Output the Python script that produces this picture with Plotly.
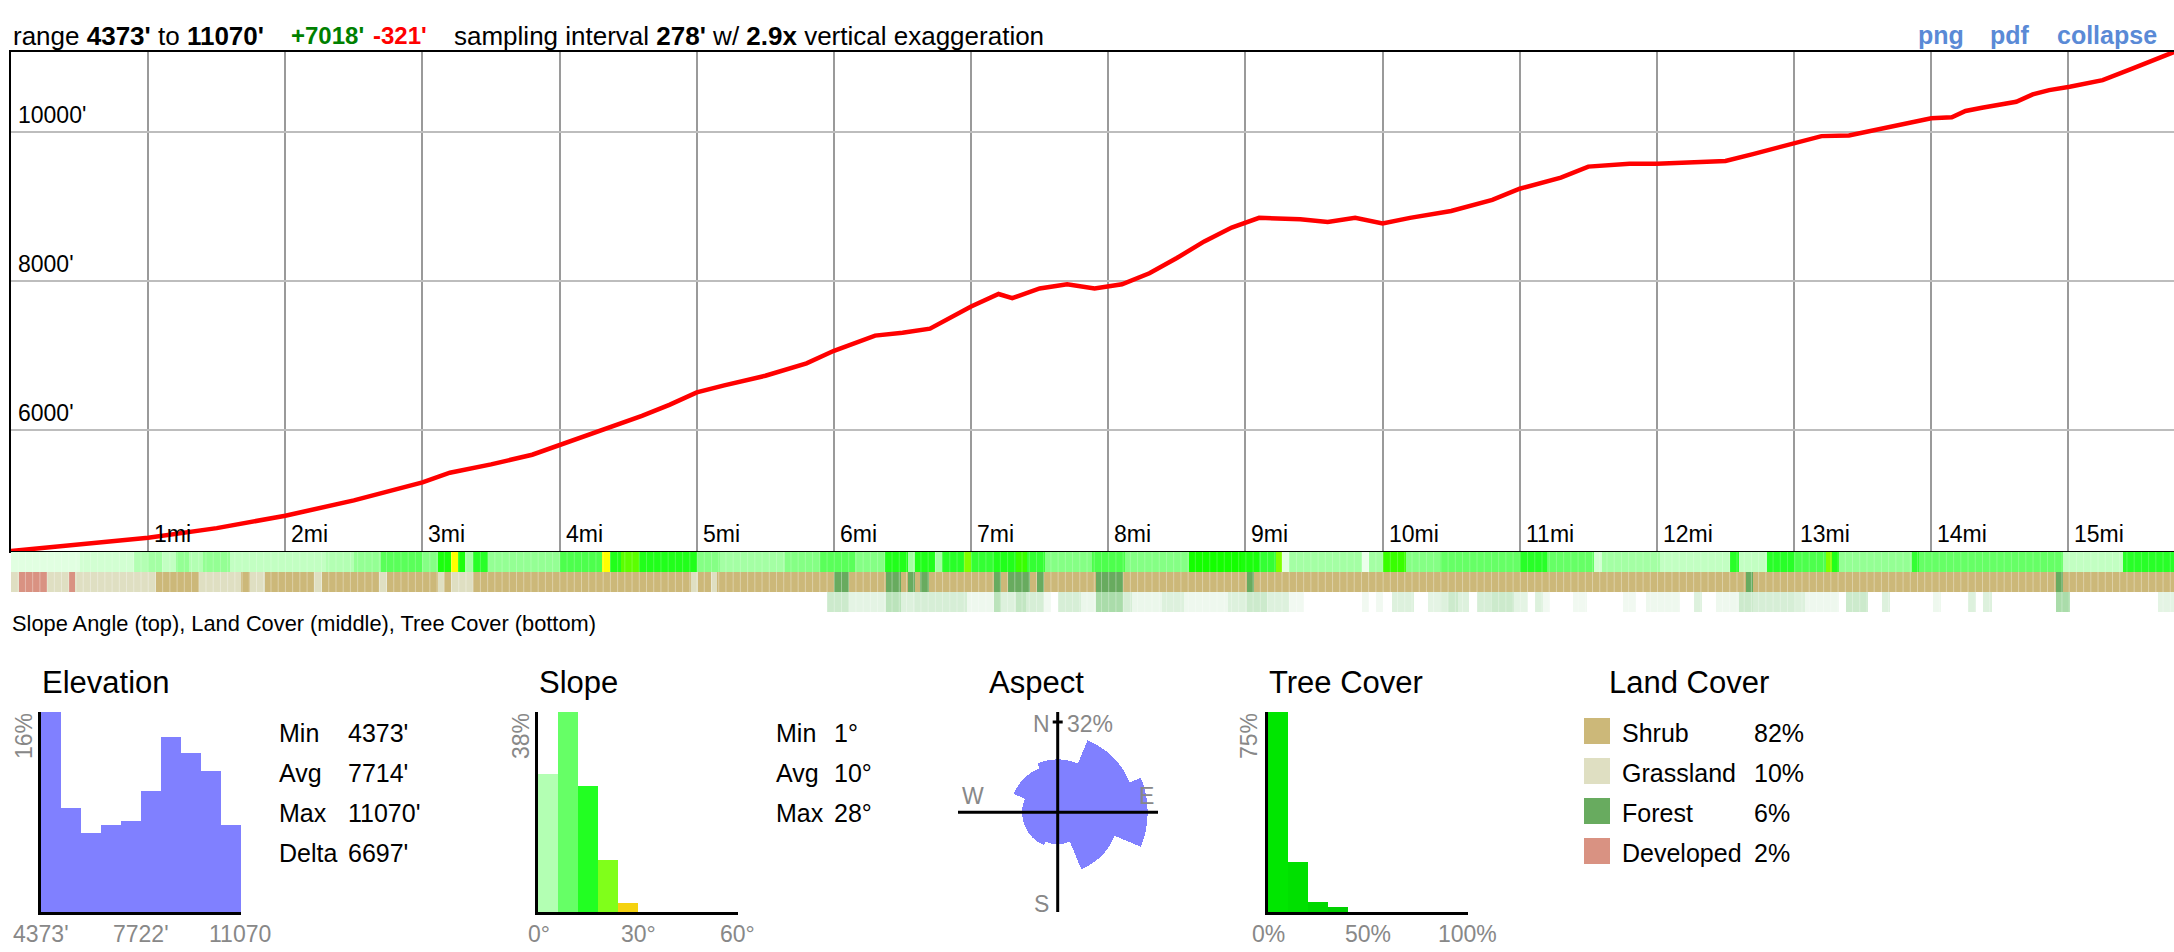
import math
import plotly.graph_objects as go

W, H = 2174, 952
FONT = "Arial, Liberation Sans, sans-serif"
GRAY = "#888888"


def px(x):
    return x / W


def py(y):
    return 1 - y / H


# ---------------- data ----------------
elev_min, elev_max = 4373, 11070
total_mi = 15.77
sampling_ft = 278

profile_mi = [0.0, 0.5, 1.0, 1.5, 2.0, 2.5, 3.0, 3.2, 3.5, 3.8, 4.0, 4.2, 4.4, 4.6, 4.8,
              5.0, 5.2, 5.5, 5.8, 6.0, 6.3, 6.5, 6.7, 7.0, 7.2, 7.3, 7.5, 7.7, 7.9, 8.1,
              8.3, 8.5, 8.7, 8.9, 9.1, 9.4, 9.6, 9.8, 10.0, 10.2, 10.5, 10.8, 11.0, 11.3,
              11.5, 11.8, 12.0, 12.3, 12.5, 12.7, 13.0, 13.2, 13.4, 14.0, 14.15, 14.25,
              14.37, 14.62, 14.74, 14.86, 15.01, 15.25, 15.47, 15.77]
profile_ft = [4373, 4457, 4550, 4680, 4847, 5052, 5294, 5424, 5535, 5665, 5795, 5926, 6056,
              6186, 6335, 6502, 6595, 6725, 6892, 7060, 7264, 7301, 7357, 7654, 7822, 7766,
              7896, 7952, 7896, 7952, 8101, 8305, 8528, 8714, 8844, 8826, 8789, 8844, 8770,
              8844, 8937, 9086, 9235, 9384, 9532, 9570, 9570, 9588, 9607, 9700, 9849, 9941,
              9950, 10180, 10193, 10278, 10322, 10402, 10501, 10559, 10603, 10693, 10850,
              11070]

mile_ticks = list(range(1, 16))
mile_labels = [f"{m}mi" for m in mile_ticks]
elev_ticks = [6000, 8000, 10000]
elev_labels = ["6000'", "8000'", "10000'"]

# slope angle strip (run edges in miles, slope in degrees)
slope_edges = [0.0, 0.5, 0.9, 1.0, 1.1, 1.2, 1.3, 1.4, 1.6, 2.3, 2.5, 2.7, 3.0, 3.11, 3.21,
               3.26, 3.31, 3.37, 3.48, 4.0, 4.31, 4.37, 4.45, 4.58, 5.0, 5.17, 5.64, 5.9,
               6.15, 6.37, 6.54, 6.59, 6.74, 6.79, 6.95, 7.0, 7.17, 7.33, 7.41, 7.54, 7.88,
               8.12, 8.59, 8.97, 9.1, 9.22, 9.27, 9.32, 9.85, 9.9, 10.0, 10.17, 10.42, 11.0,
               11.2, 11.54, 11.6, 12.02, 12.53, 12.6, 12.8, 13.0, 13.23, 13.28, 13.33, 13.86,
               13.91, 14.0, 14.96, 15.4, 15.77]
slope_deg = [2, 3, 5, 6, 4, 7, 5, 7, 4, 5, 7, 11, 8, 17, 26, 17, 6, 15, 7, 12, 26, 16, 20,
             16, 8, 6, 8, 11, 8, 16, 6, 16, 6, 15, 21, 14, 16, 19, 14, 8, 12, 8, 18, 17, 14,
             21, 2, 6, 1, 6, 19, 8, 10, 15, 10, 3, 6, 4, 15, 4, 15, 12, 21, 16, 7, 14, 10,
             10, 4, 15]

# land cover strip: 0 shrub, 1 grassland, 2 forest, 3 developed
land_edges = [0.0, 0.06, 0.26, 0.42, 0.47, 1.06, 1.37, 1.68, 1.74, 1.85, 2.21, 2.27, 2.68,
              2.74, 3.11, 3.16, 3.21, 3.37, 4.96, 5.01, 5.1, 5.15, 6.0, 6.11, 6.38, 6.49,
              6.54, 6.59, 6.63, 6.69, 7.17, 7.22, 7.27, 7.43, 7.48, 7.53, 7.91, 8.11, 9.01,
              9.06, 12.65, 12.70, 14.91, 14.96, 15.77]
land_code = [1, 3, 1, 3, 1, 0, 1, 0, 1, 0, 1, 0, 1, 0, 1, 0, 1, 0, 1, 0, 1, 0, 2, 0, 2, 0,
             2, 0, 2, 0, 2, 0, 2, 0, 2, 0, 2, 0, 2, 0, 2, 0, 2, 0]

# tree cover strip (percent)
tree_edges = [0.0, 5.95, 6.11, 6.38, 6.49, 6.59, 6.97, 7.17, 7.22, 7.33, 7.40, 7.53, 7.58,
              7.63, 7.80, 7.91, 8.11, 8.17, 8.39, 8.55, 8.87, 9.01, 9.16, 9.32, 9.43, 9.85,
              9.9, 9.95, 10.0, 10.07, 10.23, 10.33, 10.42, 10.48, 10.55, 10.63, 10.69, 10.79,
              10.96, 11.06, 11.11, 11.17, 11.22, 11.39, 11.49, 11.75, 11.85, 11.92, 12.17,
              12.27, 12.33, 12.43, 12.6, 12.7, 13.01, 13.08, 13.33, 13.38, 13.54, 13.64,
              13.7, 14.01, 14.07, 14.27, 14.33, 14.38, 14.44, 14.91, 15.01, 15.65, 15.77]
tree_pct = [0, 15, 8, 20, 10, 12, 5, 20, 10, 18, 12, 4, 0, 12, 6, 25, 12, 6, 10, 5, 10, 15,
            10, 4, 0, 4, 0, 4, 0, 10, 0, 8, 10, 15, 10, 0, 12, 15, 8, 0, 10, 4, 0, 4, 0, 4,
            0, 5, 0, 10, 0, 5, 15, 12, 10, 5, 0, 15, 0, 10, 0, 5, 0, 10, 0, 10, 0, 25, 0, 8]

elev_hist_pct = [16.0, 8.3, 6.3, 7.0, 7.3, 9.7, 14.0, 12.7, 11.3, 7.0]
elev_stat_names = ["Min", "Avg", "Max", "Delta"]
elev_stat_vals = ["4373'", "7714'", "11070'", "6697'"]
elev_axis_labels = ["4373'", "7722'", "11070"]

slope_hist_pct = [26.3, 38.0, 24.0, 9.9, 1.8, 0, 0, 0, 0, 0]
slope_hist_colors = ["#b3ffb3", "#66ff66", "#22ff22", "#80ff1a", "#f5d20f",
                     "#ff9900", "#ff0000", "#ff0000", "#ff0000", "#ff0000"]
slope_stat_names = ["Min", "Avg", "Max"]
slope_stat_vals = ["1°", "10°", "28°"]
slope_axis_labels = ["0°", "30°", "60°"]

aspect_dirs = ["N", "NE", "E", "SE", "S", "SW", "W", "NW"]
aspect_theta = [0, 45, 90, 135, 180, 225, 270, 315]
aspect_pct = [11, 24, 32, 15, 4, 5, 5, 9]

tree_hist_pct = [75.0, 18.7, 3.6, 2.0, 0, 0, 0, 0, 0, 0]
tree_hist_colors = ["#00e600", "#00e000", "#00d800", "#00d000"] + ["#00c800"] * 6
tree_axis_labels = ["0%", "50%", "100%"]

land_names = ["Shrub", "Grassland", "Forest", "Developed"]
land_pct = ["82%", "10%", "6%", "2%"]
land_colors = ["#ccb879", "#dfdfc2", "#68ab5f", "#d99282"]

# ---------------- figure ----------------
fig = go.Figure()
annotations = []
shapes = []


def ann(text, x, y, size, color="black", xa="left", ya="middle", angle=0, **kw):
    annotations.append(dict(text=text, x=px(x), y=py(y), xref="paper", yref="paper",
                            xanchor=xa, yanchor=ya, showarrow=False, textangle=angle,
                            font=dict(family=FONT, size=size, color=color), **kw))


# main profile geometry
ML, MR, MT, MB = 11, 2174, 52, 551
fig.add_trace(go.Scatter(x=profile_mi, y=profile_ft, mode="lines",
                         line=dict(color="#ff0000", width=4.5), hoverinfo="skip",
                         xaxis="x", yaxis="y"))

slope_scale = [[0, "rgb(245,255,245)"], [2 / 30, "rgb(225,255,225)"],
               [5 / 30, "rgb(179,255,179)"], [10 / 30, "rgb(102,255,102)"],
               [15 / 30, "rgb(40,255,40)"], [18 / 30, "rgb(20,255,0)"],
               [21 / 30, "rgb(128,255,0)"], [26 / 30, "rgb(255,255,0)"],
               [1, "rgb(245,210,15)"]]
fig.add_trace(go.Heatmap(x=slope_edges, y=[0, 1], z=[slope_deg], zmin=0, zmax=30,
                         colorscale=slope_scale, showscale=False, hoverinfo="skip",
                         xaxis="x2", yaxis="y2"))
land_scale = []
for i, c in enumerate(land_colors):
    land_scale += [[i / 4, c], [(i + 1) / 4, c]]
fig.add_trace(go.Heatmap(x=land_edges, y=[0, 1], z=[land_code], zmin=-0.5, zmax=3.5,
                         colorscale=land_scale, showscale=False, hoverinfo="skip",
                         xaxis="x3", yaxis="y3"))
fig.add_trace(go.Heatmap(x=tree_edges, y=[0, 1], z=[tree_pct], zmin=0, zmax=75,
                         colorscale=[[0, "rgb(255,255,255)"], [1, "rgb(0,150,0)"]],
                         showscale=False, hoverinfo="skip", xaxis="x4", yaxis="y4"))

# faint separators between sampled cells in the strips
cell_mi = sampling_ft / 5280
n_cells = int(total_mi / cell_mi)
sep_x, sep_y = [], []
for i in range(1, n_cells + 1):
    e = i * cell_mi
    sep_x += [e, e, None]
    sep_y += [0, 1, None]
for xa_, ya_, alpha in [("x2", "y2", 0.22), ("x3", "y3", 0.35), ("x4", "y4", 0.3)]:
    fig.add_trace(go.Scatter(x=sep_x, y=sep_y, mode="lines", hoverinfo="skip",
                             line=dict(color=f"rgba(255,255,255,{alpha})", width=1),
                             xaxis=xa_, yaxis=ya_))

# histograms
e_w = (elev_max - elev_min) / len(elev_hist_pct)
e_centers = [elev_min + e_w * (i + 0.5) for i in range(len(elev_hist_pct))]
fig.add_trace(go.Bar(x=e_centers, y=elev_hist_pct, width=e_w, marker=dict(color="#8080ff", line=dict(width=0)),
                     hoverinfo="skip", xaxis="x5", yaxis="y5"))
s_centers = [6 * i + 3 for i in range(len(slope_hist_pct))]
fig.add_trace(go.Bar(x=s_centers, y=slope_hist_pct, width=6,
                     marker=dict(color=slope_hist_colors, line=dict(width=0)),
                     hoverinfo="skip", xaxis="x6", yaxis="y6"))
t_centers = [10 * i + 5 for i in range(len(tree_hist_pct))]
fig.add_trace(go.Bar(x=t_centers, y=tree_hist_pct, width=10,
                     marker=dict(color=tree_hist_colors, line=dict(width=0)),
                     hoverinfo="skip", xaxis="x7", yaxis="y7"))

# aspect rose (area proportional)
fig.add_trace(go.Barpolar(theta=aspect_theta, r=[math.sqrt(p) for p in aspect_pct], width=45,
                          marker=dict(color="#8080ff", line=dict(width=0)), hoverinfo="skip",
                          subplot="polar"))


def strip_axes(top, bottom):
    return dict(domain=[py(bottom), py(top)], range=[0, 1], visible=False, fixedrange=True)


xstrip = dict(domain=[px(ML), px(MR)], range=[0, total_mi], visible=False)

hist_x = lambda l, r, rng: dict(domain=[px(l), px(r)], range=rng, showline=True, linecolor="black",
                                linewidth=3, showgrid=False, zeroline=False, showticklabels=False,
                                ticks="")
hist_y = lambda rng: dict(domain=[py(912), py(712)], range=rng, showline=True, linecolor="black",
                          linewidth=3, showgrid=False, zeroline=False, showticklabels=False,
                          ticks="")

fig.update_layout(
    width=W, height=H, autosize=False, margin=dict(l=0, r=0, t=0, b=0, pad=0),
    paper_bgcolor="white", plot_bgcolor="rgba(0,0,0,0)", showlegend=False, bargap=0,
    xaxis=dict(domain=[px(ML), px(MR)], range=[0, total_mi], tickvals=mile_ticks,
               showticklabels=False, ticks="", showgrid=True, gridcolor="#9a9a9a", gridwidth=2,
               zeroline=False, showline=True, mirror=True, linecolor="black", linewidth=2,
               layer="below traces"),
    yaxis=dict(domain=[py(MB), py(MT)], range=[elev_min, elev_max], tickvals=elev_ticks,
               showticklabels=False, ticks="", showgrid=True, gridcolor="#bdbdbd", gridwidth=2,
               zeroline=False, showline=True, linecolor="black", linewidth=2,
               layer="below traces"),
    xaxis2=dict(xstrip, anchor="y2"), yaxis2=dict(strip_axes(552, 572), anchor="x2"),
    xaxis3=dict(xstrip, anchor="y3"), yaxis3=dict(strip_axes(572, 592), anchor="x3"),
    xaxis4=dict(xstrip, anchor="y4"), yaxis4=dict(strip_axes(592, 612), anchor="x4"),
    xaxis5=dict(hist_x(41, 241, [elev_min, elev_max]), anchor="y5"),
    yaxis5=dict(hist_y([0, max(elev_hist_pct)]), anchor="x5"),
    xaxis6=dict(hist_x(538, 738, [0, 60]), anchor="y6"),
    yaxis6=dict(hist_y([0, max(slope_hist_pct)]), anchor="x6"),
    xaxis7=dict(hist_x(1268, 1468, [0, 100]), anchor="y7"),
    yaxis7=dict(hist_y([0, max(tree_hist_pct)]), anchor="x7"),
    polar=dict(domain=dict(x=[px(957.7), px(1157.7)], y=[py(912.3), py(712.3)]),
               bgcolor="rgba(0,0,0,0)",
               radialaxis=dict(visible=False, range=[0, math.sqrt(max(aspect_pct)) / 0.9]),
               angularaxis=dict(visible=False, rotation=90, direction="clockwise")),
)

# main plot labels
for m, lab in zip(mile_ticks, mile_labels):
    annotations.append(dict(text=lab, x=m, y=elev_min, xref="x", yref="y", xanchor="left",
                            yanchor="bottom", xshift=4, yshift=2, showarrow=False,
                            font=dict(family=FONT, size=23, color="black")))
for v, lab in zip(elev_ticks, elev_labels):
    annotations.append(dict(text=lab, x=px(ML + 4.5), y=v, xref="paper", yref="y",
                            xanchor="left", yanchor="bottom", yshift=2, showarrow=False,
                            font=dict(family=FONT, size=23, color="black")))

# header
HF = 26
ann("range <b>4373'</b> to <b>11070'</b>", 11, 36, HF)
ann("<b>+7018'</b>", 289, 36, 24, color="#008000")
ann("<b>-321'</b>", 371, 36, 24, color="#ff0000")
ann("sampling interval <b>278'</b> w/ <b>2.9x</b> vertical exaggeration", 452, 36, HF)
for t, x in [("png", 1916), ("pdf", 1988), ("collapse", 2055)]:
    ann("<b>" + t + "</b>", x, 35, 25, color="#5a8ad6")

ann("Slope Angle (top), Land Cover (middle), Tree Cover (bottom)", 10, 623.5, 21.8)

# panel titles
for t, x in [("Elevation", 40), ("Slope", 537), ("Aspect", 987), ("Tree Cover", 1267),
             ("Land Cover", 1607)]:
    ann(t, x, 682, 31)

# elevation panel
ann("16%", 24, 711, 23, color=GRAY, xa="center", ya="top", angle=-90)
for lab, x in zip(elev_axis_labels, [41, 141, 240]):
    ann(lab, x, 933.5, 23, color=GRAY, xa="center")
for i, (n, v) in enumerate(zip(elev_stat_names, elev_stat_vals)):
    ann(n, 277, 733 + 40 * i, 25)
    ann(v, 346, 733 + 40 * i, 25)

# slope panel
ann("38%", 521, 711, 23, color=GRAY, xa="center", ya="top", angle=-90)
for lab, x in zip(slope_axis_labels, [539, 638, 737]):
    ann(lab, x, 933.5, 23, color=GRAY, xa="center")
for i, (n, v) in enumerate(zip(slope_stat_names, slope_stat_vals)):
    ann(n, 774, 733 + 40 * i, 25)
    ann(v, 832, 733 + 40 * i, 25)

# aspect panel
CX, CY = 1057.7, 812.3
shapes.append(dict(type="line", xref="paper", yref="paper", x0=px(CX), x1=px(CX),
                   y0=py(712), y1=py(912), line=dict(color="black", width=3)))
shapes.append(dict(type="line", xref="paper", yref="paper", x0=px(958), x1=px(1158),
                   y0=py(CY), y1=py(CY), line=dict(color="black", width=3)))
shapes.append(dict(type="line", xref="paper", yref="paper", x0=px(CX - 5), x1=px(CX + 5),
                   y0=py(722), y1=py(722), line=dict(color="black", width=3)))
ann("N", 1041.7, 723.5, 23, color=GRAY, xa="center")
ann(f"{max(aspect_pct)}%", 1065, 723.5, 23, color=GRAY)
ann("W", 972.7, 795.5, 23, color=GRAY, xa="center")
ann("E", 1146, 795.5, 23, color=GRAY, xa="center")
ann("S", 1041.7, 904, 23, color=GRAY, xa="center")

# tree cover panel
ann("75%", 1249, 711, 23, color=GRAY, xa="center", ya="top", angle=-90)
for lab, x in zip(tree_axis_labels, [1268, 1368, 1467]):
    ann(lab, x, 933.5, 23, color=GRAY, xa="center")

# land cover legend
for i, (n, p, c) in enumerate(zip(land_names, land_pct, land_colors)):
    yc = 731 + 40 * i
    shapes.append(dict(type="rect", xref="paper", yref="paper", x0=px(1584), x1=px(1610),
                       y0=py(yc + 13), y1=py(yc - 13), fillcolor=c, line=dict(width=0)))
    ann(n, 1620, yc + 2, 25)
    ann(p, 1752, yc + 2, 25)

fig.update_layout(annotations=annotations, shapes=shapes)
fig.write_html("out.html")
